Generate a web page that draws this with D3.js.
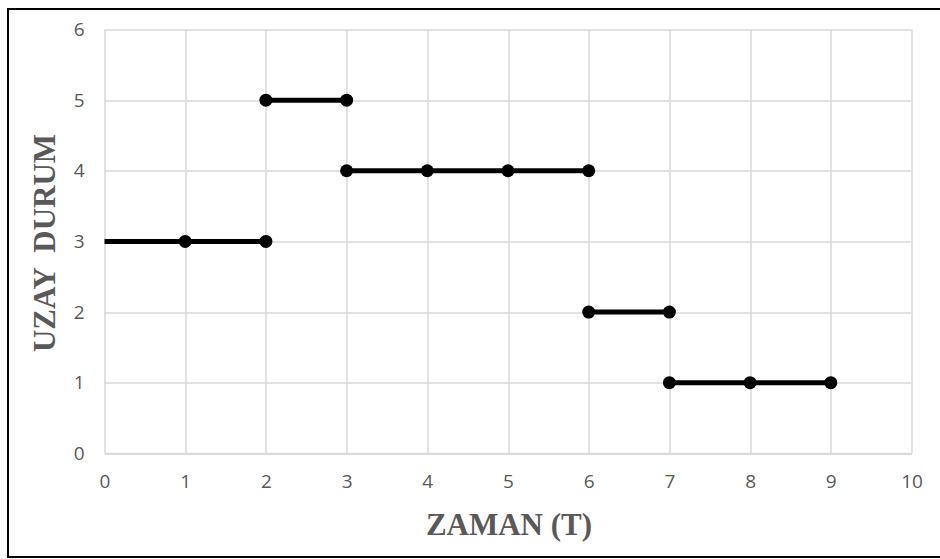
<!DOCTYPE html>
<html>
<head>
<meta charset="utf-8">
<script src="https://cdn.jsdelivr.net/npm/d3@7"></script>
<style>
  body { margin: 0; background: #fff; }
</style>
</head>
<body>
<div id="chart"></div>
<script>
// data
const segmentStart = [0, 2, 3, 6, 7]
const segmentEnd = [2, 3, 6, 7, 9]
const segmentState = [3, 5, 4, 2, 1]

const markerTime = [1, 2, 2, 3, 3, 4, 5, 6, 6, 7, 7, 8, 9]
const markerState = [3, 3, 5, 5, 4, 4, 4, 4, 2, 2, 1, 1, 1]

const xTicks = [0, 1, 2, 3, 4, 5, 6, 7, 8, 9, 10]
const yTicks = [0, 1, 2, 3, 4, 5, 6]

function drawChart() {
    const dimensions = {
        width: 940,
        height: 559,
        margin: { top: 29.5, right: 28.5, bottom: 105.7, left: 104.5 },
    }
    dimensions.innerWidth = dimensions.width - dimensions.margin.left - dimensions.margin.right
    dimensions.innerHeight = dimensions.height - dimensions.margin.top - dimensions.margin.bottom

    const outer = d3.select('#chart')
        .append('svg')
        .attr('width', dimensions.width)
        .attr('height', dimensions.height)

    // frame round the picture (right edge falls outside)
    outer.append('rect')
        .attr('x', 8).attr('y', 9)
        .attr('width', 960).attr('height', 548)
        .attr('fill', 'none')
        .attr('stroke', '#000')
        .attr('stroke-width', 2)

    const inner = outer.append('g')
        .attr('transform', `translate(${dimensions.margin.left},${dimensions.margin.top})`)

    const xScale = d3.scaleLinear()
        .domain([0, 10])
        .range([0, dimensions.innerWidth])

    const yScale = d3.scaleLinear()
        .domain([0, 6])
        .range([dimensions.innerHeight, 0])

    // grid
    inner.append('g')
        .selectAll('line')
        .data(yTicks)
        .join('line')
        .attr('x1', 0).attr('x2', dimensions.innerWidth)
        .attr('y1', d => Math.round(yScale(d)) + 0.5)
        .attr('y2', d => Math.round(yScale(d)) + 0.5)
        .attr('stroke', '#d9d9d9')
        .attr('stroke-width', 1.5)

    inner.append('g')
        .selectAll('line')
        .data(xTicks)
        .join('line')
        .attr('x1', d => Math.round(xScale(d)) + 0.5)
        .attr('x2', d => Math.round(xScale(d)) + 0.5)
        .attr('y1', 0).attr('y2', dimensions.innerHeight)
        .attr('stroke', '#d9d9d9')
        .attr('stroke-width', 1.5)

    // axes (tick labels only)
    const xAxis = d3.axisBottom(xScale)
        .tickValues(xTicks)
        .tickFormat(d3.format('d'))
        .tickSize(0)
        .tickPadding(21)

    const xAxisGroup = inner.append('g')
        .attr('transform', `translate(0,${dimensions.innerHeight})`)
        .call(xAxis)
    xAxisGroup.select('.domain').attr('stroke', '#d9d9d9').attr('stroke-width', 2)

    const yAxis = d3.axisLeft(yScale)
        .tickValues(yTicks)
        .tickFormat(d3.format('d'))
        .tickSize(0)
        .tickPadding(20)

    const yAxisGroup = inner.append('g').call(yAxis)
    yAxisGroup.select('.domain').remove()

    outer.selectAll('.tick text')
        .attr('fill', '#595959')
        .style('font-family', '"Open Sans", sans-serif')
        .style('font-size', '19px')

    // step segments
    const lineGenerator = d3.line()
        .x(d => xScale(d[0]))
        .y(d => yScale(d[1]))

    inner.append('g')
        .selectAll('path')
        .data(segmentState.map((s, i) => [[segmentStart[i], s], [segmentEnd[i], s]]))
        .join('path')
        .attr('d', lineGenerator)
        .attr('fill', 'none')
        .attr('stroke', '#000')
        .attr('stroke-width', 5)

    inner.append('g')
        .selectAll('circle')
        .data(markerTime.map((t, i) => [t, markerState[i]]))
        .join('circle')
        .attr('cx', d => xScale(d[0]))
        .attr('cy', d => yScale(d[1]))
        .attr('r', 6.5)
        .attr('fill', '#000')

    // axis titles
    outer.append('text')
        .attr('x', 509)
        .attr('y', 535)
        .attr('text-anchor', 'middle')
        .attr('fill', '#595959')
        .style('font-family', '"Liberation Serif", "Times New Roman", serif')
        .style('font-weight', 'bold')
        .style('font-size', '31px')
        .text('ZAMAN (T)')

    outer.append('text')
        .attr('transform', `translate(55,243) rotate(-90)`)
        .attr('text-anchor', 'middle')
        .attr('fill', '#595959')
        .style('font-family', '"Liberation Serif", "Times New Roman", serif')
        .style('font-weight', 'bold')
        .style('font-size', '31px')
        .style('white-space', 'pre')
        .text('UZAY  DURUM')
}

drawChart()
</script>
</body>
</html>
